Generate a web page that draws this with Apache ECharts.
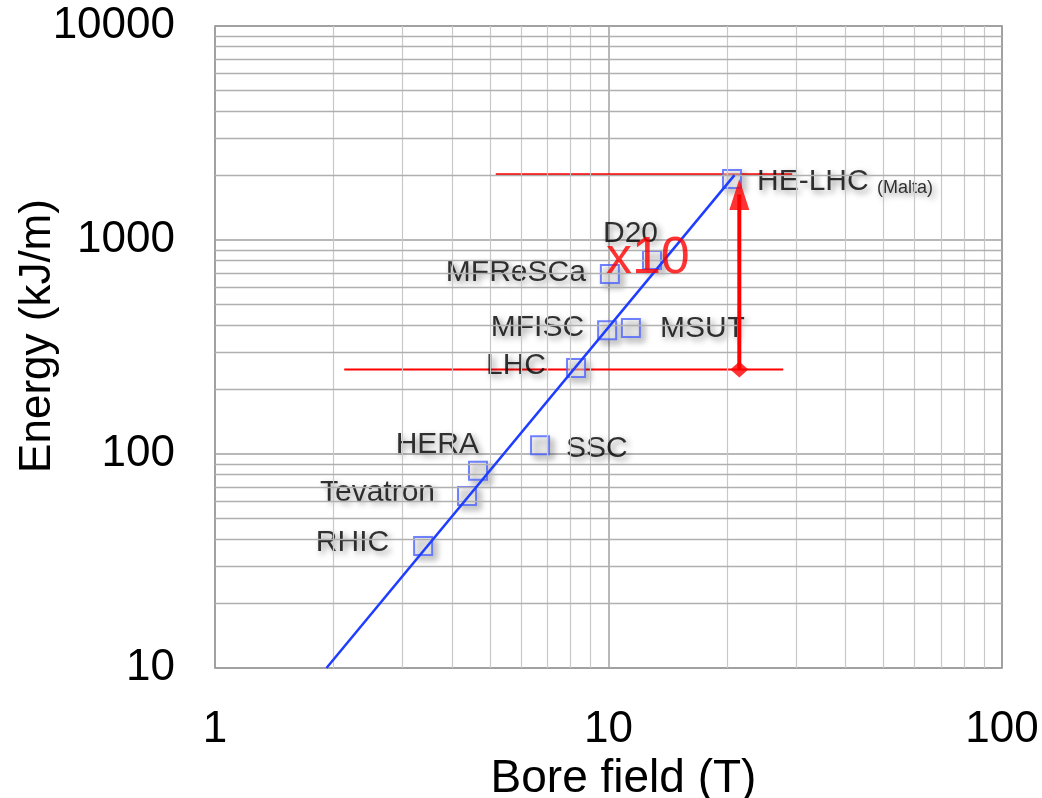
<!DOCTYPE html>
<html>
<head>
	<meta charset="UTF-8">
	<script src="https://cdn.jsdelivr.net/npm/echarts@6.0.0/dist/echarts.min.js"></script>
	<style>
		body {
			margin: 0;
			padding: 0;
			background: #ffffff;
		}

		#chart {
			width: 1042px;
			height: 798px;
		}
	</style>
</head>
<body>
	<div id="chart"></div>
	<script>
		// 磁体数据 (bore field T, stored energy kJ/m)
		var magnets = ['RHIC', 'Tevatron', 'HERA', 'SSC', 'LHC', 'MFISC', 'MSUT', 'MFReSCa', 'D20', 'HE-LHC'];
		var boreField = [3.38, 4.37, 4.66, 6.7, 8.27, 9.92, 11.4, 10.08, 12.9, 20.6];
		var energyKJ = [37.2, 63.7, 83.4, 110, 252, 379, 388, 693, 807, 1930];

		// fit line end points
		var fitField = [1.92, 20.9];
		var fitEnergy = [10, 2010];

		// red reference levels (LHC / HE-LHC)
		var levelEnergy = [248, 2030];
		var levelFieldFrom = [2.13, 5.17];
		var levelFieldTo = [27.8, 29.3];

		// arrow
		var arrowField = 21.5;
		var arrowEnergy = [248, 1632];
		var ratioText = 'x10';
		var ratioAnchor = [9.85, 815];

		// axis ticks
		var xTicks = [1, 10, 100];
		var yTicks = [10, 100, 1000, 10000];
		var xMinor = [2, 3, 4, 5, 6, 7, 8, 9, 20, 30, 40, 50, 60, 70, 80, 90];
		var yMinor = [20, 30, 40, 50, 60, 70, 80, 90, 200, 300, 400, 500, 600, 700, 800, 900,
			2000, 3000, 4000, 5000, 6000, 7000, 8000, 9000];

		// label placement: [align, dx, dy] from square centre
		var labelPlace = {
			'RHIC': ['right', -34, -3],
			'Tevatron': ['right', -32, -3],
			'HERA': ['right', 1, -26],
			'SSC': ['left', 26, 4],
			'LHC': ['right', -30, -2],
			'MFISC': ['right', -23, -2],
			'MSUT': ['left', 29, 1],
			'MFReSCa': ['right', -24, -1],
			'D20': ['left', -49, -26],
			'HE-LHC': ['left', 25, 3]
		};

		var font = 'Liberation Sans, Arial, Helvetica, sans-serif';
		var FAR = 3000; // shadow layer text is drawn off-canvas, only its blurred shadow comes back

		var points = magnets.map(function (name, i) {
			return [boreField[i], energyKJ[i]];
		});

		// 名称标签：shadow=true 时只留下模糊阴影
		function makeLabels(shadow) {
			return magnets.map(function (name, i) {
				var p = labelPlace[name];
				var label = {
					show: true,
					position: 'inside',
					align: p[0],
					verticalAlign: 'middle',
					offset: shadow ? [p[1] - FAR, p[2]] : [p[1], p[2]],
					color: '#000000',
					textBorderWidth: 0,
					fontFamily: font,
					fontSize: 30,
					formatter: name === 'HE-LHC' ? 'HE-LHC {s|(Malta)}' : name,
					rich: {
						s: { fontSize: 18, fontFamily: font, color: '#000', verticalAlign: 'bottom', padding: [8, 0, 0, 0] }
					}
				};
				if (shadow) {
					var sh = {
						textShadowColor: 'rgba(0,0,0,0.55)',
						textShadowBlur: 6,
						textShadowOffsetX: FAR + 3,
						textShadowOffsetY: 3
					};
					Object.assign(label, sh);
					Object.assign(label.rich.s, sh);
				}
				return { name: name, value: [boreField[i], energyKJ[i]], label: label };
			});
		}

		var chart = echarts.init(document.getElementById('chart'));
		var option = {
			animation: false,
			grid: {
				left: 215, right: 40, top: 26, bottom: 130,
				outerBoundsMode: 'none',
				containLabel: false,
				show: true, borderColor: '#888', borderWidth: 1.5
			},
			xAxis: {
				type: 'log', logBase: 10, min: xTicks[0], max: xTicks[xTicks.length - 1],
				axisLine: { show: false },
				axisTick: { show: false },
				axisLabel: {
					fontSize: 44, color: '#000', fontFamily: font, margin: 40,
					formatter: function (v) { return String(v); }
				},
				splitLine: { show: true, lineStyle: { color: '#a0a0a0', width: 1.5 } },
				name: 'Bore field (T)',
				nameLocation: 'middle',
				nameGap: 88,
				nameMoveOverlap: false,
				nameTextStyle: { fontSize: 46, color: '#000', fontFamily: font, padding: [0, 0, 0, 30] }
			},
			yAxis: {
				type: 'log', logBase: 10, min: yTicks[0], max: yTicks[yTicks.length - 1],
				axisLine: { show: false },
				axisTick: { show: false },
				axisLabel: {
					fontSize: 44, color: '#000', fontFamily: font, margin: 40,
					formatter: function (v) { return String(v); }
				},
				splitLine: { show: true, lineStyle: { color: '#a0a0a0', width: 1.5 } },
				name: 'Energy (kJ/m)',
				nameLocation: 'middle',
				nameGap: 155,
				nameMoveOverlap: false,
				nameTextStyle: { fontSize: 44, color: '#000', fontFamily: font, padding: [0, 0, 0, 22] }
			},
			series: [
				{
					// minor grid lines
					type: 'line', data: [], z: 1, silent: true,
					markLine: {
						silent: true, symbol: 'none', label: { show: false }, animation: false,
						data: xMinor.map(function (v) {
							return { xAxis: v, lineStyle: { color: '#c8c8c8', width: 1.2, type: 'solid' } };
						}).concat(yMinor.map(function (v) {
							return { yAxis: v, lineStyle: { color: '#b0b0b0', width: 1.3, type: 'solid' } };
						}))
					}
				},
				{
					type: 'line', z: 3, showSymbol: false, silent: true,
					lineStyle: { color: '#ff0000', width: 2 },
					data: [[levelFieldFrom[0], levelEnergy[0]], [levelFieldTo[0], levelEnergy[0]]]
				},
				{
					type: 'line', z: 3, showSymbol: false, silent: true,
					lineStyle: { color: '#ff0000', width: 2 },
					data: [[levelFieldFrom[1], levelEnergy[1]], [levelFieldTo[1], levelEnergy[1]]]
				},
				{
					type: 'scatter', z: 4, silent: true,
					symbol: 'rect', symbolSize: 18,
					itemStyle: {
						color: 'rgba(255,255,255,0.55)',
						borderColor: '#4d63ff',
						borderWidth: 2,
						shadowColor: 'rgba(0,0,0,0.45)',
						shadowBlur: 6,
						shadowOffsetX: 4,
						shadowOffsetY: 4
					},
					data: points
				},
				{
					type: 'scatter', z: 4, silent: true,
					symbolSize: 0,
					itemStyle: { color: 'transparent' },
					data: makeLabels(true)
				},
				{
					type: 'scatter', z: 4, silent: true,
					symbolSize: 0,
					itemStyle: { color: 'transparent' },
					data: makeLabels(false)
				},
				{
					type: 'line', z: 5, showSymbol: false, silent: true,
					lineStyle: { color: '#1f3dff', width: 2.5 },
					data: [[fitField[0], fitEnergy[0]], [fitField[1], fitEnergy[1]]]
				},
				{
					type: 'line', z: 6, showSymbol: false, silent: true,
					lineStyle: { color: '#ff0000', width: 4 },
					data: [[arrowField, arrowEnergy[0]], [arrowField, arrowEnergy[1]]]
				},
				{
					type: 'scatter', z: 6, silent: true,
					itemStyle: { color: '#ff0000' },
					data: [
						{ value: [arrowField, arrowEnergy[0]], symbol: 'diamond', symbolSize: [18, 16] },
						{ value: [arrowField, arrowEnergy[1]], symbol: 'triangle', symbolSize: [20, 31] }
					]
				},
				{
					type: 'scatter', z: 7, silent: true,
					symbolSize: 0,
					data: [{
						value: ratioAnchor,
						label: {
							show: true, position: 'inside', align: 'left', verticalAlign: 'middle',
							formatter: ratioText, color: '#ff0000', fontSize: 52, fontFamily: font,
							textBorderWidth: 0
						}
					}]
				}
			]
		};
		chart.setOption(option);
	</script>
</body>
</html>
